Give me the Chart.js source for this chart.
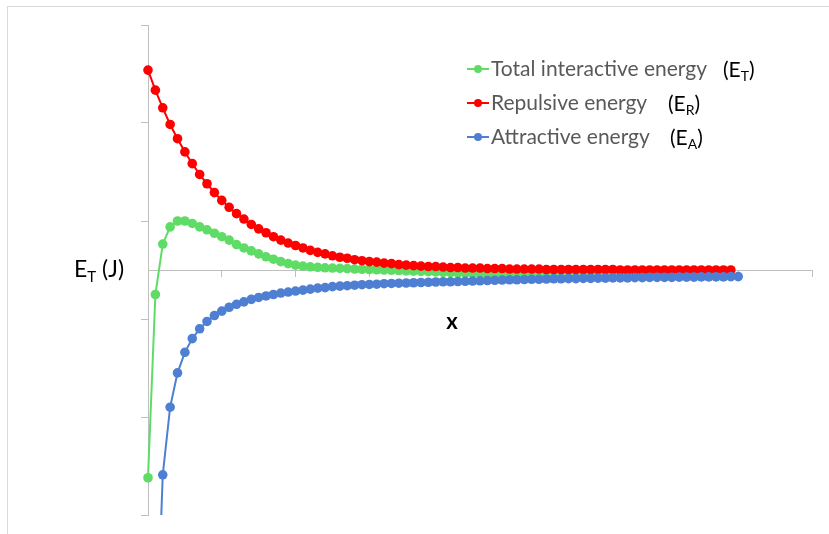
<!DOCTYPE html>
<html>
<head>
<meta charset="utf-8">
<title>Interaction energy</title>
<script src="https://cdn.jsdelivr.net/npm/chart.js@4.4.1/dist/chart.umd.min.js"></script>
<style>
    html, body { margin: 0; padding: 0; background: #fff; overflow: hidden; }
    #wrap { position: relative; width: 829px; height: 534px; overflow: hidden; }
    #frame { position: absolute; left: 7px; top: 6px; width: 900px; height: 600px; border: 1px solid #d9d9d9; }
    #energyChart { position: absolute; left: 0; top: 0; }
</style>
</head>
<body>
<div id="wrap">
    <div id="frame"></div>
    <canvas id="energyChart" width="829" height="534"></canvas>
</div>
<script>
// Separation steps (x)
const xValues = [
    0.0, 0.1, 0.2, 0.3, 0.4, 0.5, 0.6, 0.7, 0.8, 0.9,
    1.0, 1.1, 1.2, 1.3, 1.4, 1.5, 1.6, 1.7, 1.8, 1.9,
    2.0, 2.1, 2.2, 2.3, 2.4, 2.5, 2.6, 2.7, 2.8, 2.9,
    3.0, 3.1, 3.2, 3.3, 3.4, 3.5, 3.6, 3.7, 3.8, 3.9,
    4.0, 4.1, 4.2, 4.3, 4.4, 4.5, 4.6, 4.7, 4.8, 4.9,
    5.0, 5.1, 5.2, 5.3, 5.4, 5.5, 5.6, 5.7, 5.8, 5.9,
    6.0, 6.1, 6.2, 6.3, 6.4, 6.5, 6.6, 6.7, 6.8, 6.9,
    7.0, 7.1, 7.2, 7.3, 7.4, 7.5, 7.6, 7.7, 7.8, 7.9,
    8.0
];

// E_T, from x = 0.0
const totalEnergy = [
    -4.24, -0.50, 0.53, 0.88, 1.00, 1.00, 0.95, 0.88, 0.82, 0.75,
    0.68, 0.61, 0.52, 0.45, 0.39, 0.33, 0.27, 0.22, 0.17, 0.13,
    0.10, 0.08, 0.065, 0.055, 0.045, 0.04, 0.035, 0.03, 0.02, 0.015,
    0.01, 0.005, 0.0, -0.005, -0.01, -0.02, -0.025, -0.03, -0.035, -0.04,
    -0.05, -0.055, -0.06, -0.065, -0.07, -0.075, -0.08, -0.085, -0.09, -0.09,
    -0.095, -0.10, -0.10, -0.105, -0.105, -0.11, -0.11, -0.11, -0.115, -0.115,
    -0.115, -0.12, -0.12, -0.12, -0.12, -0.125, -0.125, -0.125, -0.125, -0.125,
    -0.13, -0.13, -0.13, -0.13, -0.13, -0.13, -0.13, -0.13, -0.13, -0.13
];

// E_R, from x = 0.0
const repulsiveEnergy = [
    4.08, 3.67, 3.31, 2.97, 2.68, 2.41, 2.17, 1.95, 1.76, 1.58,
    1.42, 1.28, 1.15, 1.04, 0.93, 0.84, 0.76, 0.68, 0.61, 0.55,
    0.50, 0.45, 0.40, 0.36, 0.33, 0.29, 0.26, 0.24, 0.21, 0.19,
    0.17, 0.16, 0.14, 0.13, 0.11, 0.10, 0.09, 0.08, 0.07, 0.07,
    0.06, 0.05, 0.05, 0.04, 0.04, 0.04, 0.03, 0.03, 0.03, 0.02,
    0.02, 0.02, 0.02, 0.02, 0.01, 0.01, 0.01, 0.01, 0.01, 0.01,
    0.01, 0.01, 0.01, 0.01, 0.0, 0.0, 0.0, 0.0, 0.0, 0.0,
    0.0, 0.0, 0.0, 0.0, 0.0, 0.0, 0.0, 0.0, 0.0, 0.0
];

// E_A, from x = 0.1 (first value runs off the bottom of the plot)
const attractiveEnergy = [
    -8.30, -4.18, -2.80, -2.10, -1.68, -1.40, -1.20, -1.05, -0.93, -0.84,
    -0.76, -0.70, -0.65, -0.60, -0.56, -0.53, -0.50, -0.47, -0.45, -0.43,
    -0.41, -0.39, -0.37, -0.36, -0.34, -0.33, -0.32, -0.31, -0.30, -0.295,
    -0.29, -0.28, -0.275, -0.27, -0.265, -0.26, -0.255, -0.25, -0.245, -0.24,
    -0.24, -0.235, -0.23, -0.225, -0.22, -0.215, -0.21, -0.205, -0.20, -0.20,
    -0.195, -0.19, -0.19, -0.185, -0.18, -0.18, -0.175, -0.175, -0.17, -0.17,
    -0.165, -0.165, -0.16, -0.16, -0.16, -0.155, -0.155, -0.15, -0.15, -0.15,
    -0.15, -0.145, -0.145, -0.145, -0.14, -0.14, -0.14, -0.14, -0.135, -0.135
];

const yTickValues = [-5, -3, -1, 1, 3, 5];
const seriesNames = ['Total interactive energy', 'Repulsive energy', 'Attractive energy'];
const seriesSymbols = ['T', 'R', 'A'];

const colors = {
    total: '#5fdc66',
    repulsive: '#ff0000',
    attractive: '#4e7fd3',
    axis: '#bfbfbf',
    legendText: '#595959',
    text: '#000000'
};

function toPoints(values, offset) {
    return values.map((v, i) => ({ x: xValues[i + offset], y: v }));
}

function series(label, values, offset, color, order) {
    return {
        label: label,
        data: toPoints(values, offset),
        borderColor: color,
        backgroundColor: color,
        borderWidth: 2,
        pointRadius: 4.8,
        pointBorderWidth: 0,
        pointBackgroundColor: color,
        order: order,
        clip: { left: 6, right: 6, top: 6, bottom: 0 }
    };
}

// legend + axis captions drawn by hand (subscripts)
const captionsPlugin = {
    id: 'captions',
    afterDraw(chart) {
        const ctx = chart.ctx;
        const rows = [
            { y: 69, symX: 723 },
            { y: 103, symX: 668 },
            { y: 137, symX: 670 }
        ];
        ctx.save();
        rows.forEach((row, i) => {
            const color = chart.data.datasets[i].borderColor;
            ctx.strokeStyle = color;
            ctx.lineWidth = 2;
            ctx.beginPath();
            ctx.moveTo(467, row.y);
            ctx.lineTo(489, row.y);
            ctx.stroke();
            ctx.fillStyle = color;
            ctx.beginPath();
            ctx.arc(478, row.y, 4, 0, Math.PI * 2);
            ctx.fill();

            ctx.textBaseline = 'alphabetic';
            ctx.textAlign = 'left';
            ctx.fillStyle = colors.legendText;
            ctx.font = "21px Lato";
            ctx.fillText(seriesNames[i], 491, row.y + 7);

            ctx.fillStyle = colors.text;
            ctx.font = "21px Lato";
            let x = row.symX;
            ctx.fillText('(E', x, row.y + 8);
            x += ctx.measureText('(E').width;
            ctx.font = "14px Lato";
            ctx.fillText(seriesSymbols[i], x, row.y + 12);
            x += ctx.measureText(seriesSymbols[i]).width;
            ctx.font = "21px Lato";
            ctx.fillText(')', x, row.y + 8);
        });

        // y caption
        ctx.fillStyle = colors.text;
        ctx.font = "23px Lato";
        let x = 74;
        ctx.fillText('E', x, 277);
        x += ctx.measureText('E').width;
        ctx.font = "15px Lato";
        ctx.fillText('T', x, 282);
        x += ctx.measureText('T').width;
        ctx.font = "23px Lato";
        ctx.fillText(' (J)', x, 277);

        // x caption
        ctx.font = "bold 22px Lato";
        ctx.textAlign = 'center';
        ctx.fillText('x', 452, 329);
        ctx.restore();
    }
};

const ctx = document.getElementById('energyChart');

new Chart(ctx, {
    type: 'line',
    data: {
        datasets: [
            series(seriesNames[0], totalEnergy, 0, colors.total, 3),
            series(seriesNames[1], repulsiveEnergy, 0, colors.repulsive, 2),
            series(seriesNames[2], attractiveEnergy, 1, colors.attractive, 1)
        ]
    },
    options: {
        responsive: false,
        animation: false,
        devicePixelRatio: 1,
        layout: { padding: { left: 0, top: 25, right: 17, bottom: 19 } },
        plugins: {
            legend: { display: false },
            tooltip: { enabled: false }
        },
        scales: {
            x: {
                type: 'linear',
                min: 0,
                max: 9,
                position: { y: 0 },
                ticks: { display: false, stepSize: 1 },
                grid: { drawOnChartArea: false, drawTicks: true, tickLength: 6, color: colors.axis },
                border: { color: colors.axis, width: 1 },
                afterFit: function (scale) { scale.height = 0; }
            },
            y: {
                type: 'linear',
                min: -5,
                max: 5,
                position: 'left',
                ticks: { display: false },
                afterBuildTicks: function (scale) {
                    scale.ticks = yTickValues.map(v => ({ value: v }));
                },
                grid: { drawOnChartArea: false, drawTicks: true, tickLength: 7, color: colors.axis },
                border: { color: colors.axis, width: 1 },
                afterFit: function (scale) { scale.width = 148; }
            }
        }
    },
    plugins: [captionsPlugin]
});
</script>
</body>
</html>
